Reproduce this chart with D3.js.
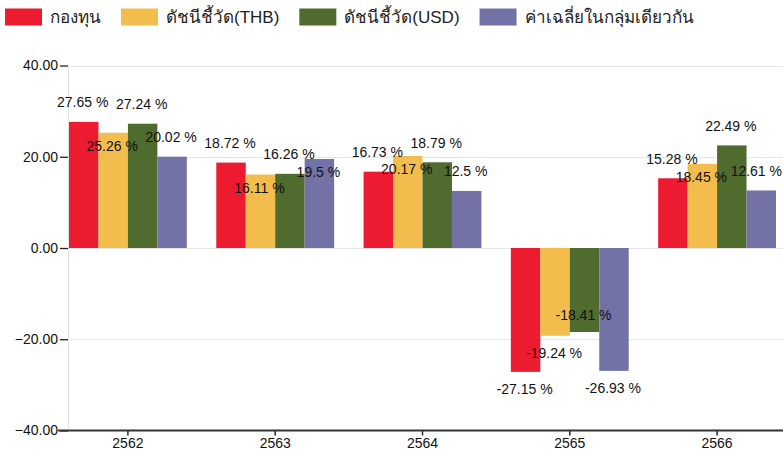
<!DOCTYPE html>
<html>
<head>
<meta charset="utf-8">
<script src="https://cdn.jsdelivr.net/npm/d3@7/dist/d3.min.js"></script>
<style>
  html, body { margin: 0; padding: 0; background: #fff; }
  svg { display: block; font-family: "Liberation Sans", Arial, sans-serif; }
</style>
</head>
<body>
<svg id="chart" width="783" height="457"></svg>
<script>
// Yearly returns (%) by Buddhist-era year
const categories = ["2562", "2563", "2564", "2565", "2566"];
const seriesNames = ["กองทุน", "ดัชนีชี้วัด(THB)", "ดัชนีชี้วัด(USD)", "ค่าเฉลี่ยในกลุ่มเดียวกัน"];
const fundReturns = [27.65, 18.72, 16.73, -27.15, 15.28];
const benchmarkTHB = [25.26, 16.11, 20.17, -19.24, 18.45];
const benchmarkUSD = [27.24, 16.26, 18.79, -18.41, 22.49];
const peerAverage = [20.02, 19.5, 12.5, -26.93, 12.61];
const yTicks = [-40, -20, 0, 20, 40];
const colors = ["#ED1B2F", "#F3BD4E", "#4F6B2D", "#7372A6"];

const seriesValues = [fundReturns, benchmarkTHB, benchmarkUSD, peerAverage];

const svg = d3.select("#chart");
const W = 783;
const plotLeft = 68, plotRight = 783, plotTop = 65.5, plotBottom = 430.5;

const y = d3.scaleLinear().domain([-40, 40]).range([plotBottom, plotTop]);
const x0 = d3.scaleBand().domain(categories).range([69, 776]).paddingInner(0.2).paddingOuter(0);
const x1 = d3.scaleBand().domain(d3.range(seriesNames.length)).range([0, x0.bandwidth()]).padding(0);

// horizontal grid lines
svg.append("g").selectAll("line")
  .data(yTicks.filter(t => t > -40))
  .join("line")
  .attr("x1", plotLeft).attr("x2", plotRight)
  .attr("y1", d => Math.round(y(d)) + 0.5).attr("y2", d => Math.round(y(d)) + 0.5)
  .attr("stroke", "#e6e6e6").attr("stroke-width", 1);

// left axis line
svg.append("line")
  .attr("x1", plotLeft + 0.5).attr("x2", plotLeft + 0.5)
  .attr("y1", plotTop).attr("y2", plotBottom)
  .attr("stroke", "#e3e3e3");

// y axis ticks and labels
const yAxis = d3.axisLeft(y).tickValues(yTicks).tickFormat(d3.format(".2f")).tickSize(8).tickPadding(2);
const gy = svg.append("g").attr("transform", `translate(${plotLeft},0)`).call(yAxis);
gy.select(".domain").remove();
gy.selectAll(".tick line").attr("stroke", "#222").attr("stroke-width", 1.3);
gy.selectAll(".tick text").attr("fill", "#111").style("font-size", "14px")
  .style("font-family", "'Liberation Sans', Arial, sans-serif");

// bars
const rows = [];
categories.forEach((c, ci) => {
  seriesValues.forEach((vals, si) => rows.push({ cat: c, si, v: vals[ci] }));
});

svg.append("g").selectAll("rect")
  .data(rows)
  .join("rect")
  .attr("x", d => x0(d.cat) + x1(d.si))
  .attr("width", x1.bandwidth())
  .attr("y", d => y(Math.max(0, d.v)))
  .attr("height", d => Math.abs(y(d.v) - y(0)))
  .attr("fill", d => colors[d.si]);

// x axis
const xAxis = d3.axisBottom(x0).tickSize(5).tickPadding(3);
const gx = svg.append("g").attr("transform", `translate(0,${plotBottom})`).call(xAxis);
gx.select(".domain").remove();
gx.selectAll(".tick line").attr("stroke", "#222").attr("stroke-width", 1.5);
gx.selectAll(".tick text").attr("fill", "#111").style("font-size", "14px")
  .style("font-family", "'Liberation Sans', Arial, sans-serif");
svg.append("line")
  .attr("x1", 58).attr("x2", W)
  .attr("y1", plotBottom).attr("y2", plotBottom)
  .attr("stroke", "#333").attr("stroke-width", 2);

// value labels: outside the bar end, or tucked inside when they would collide
const labelFont = 14;
const labels = svg.append("g").style("font-size", labelFont + "px").attr("fill", "#111");
const placed = [];
const boxH = 17;
rows.forEach(d => {
  const text = d.v + " %";
  const t = labels.append("text").attr("text-anchor", "middle").text(text);
  const w = t.node().getComputedTextLength();
  // keep the label inside the drawing area
  const cx = Math.min(x0(d.cat) + x1(d.si) + x1.bandwidth() / 2 - 1, W - w / 2 - 1);
  const end = y(d.v);
  const pos = d.v >= 0;
  const outside = pos ? end - 19.5 : end + 17;
  const inside = pos ? end + 13.5 : end - 17;
  const hits = cy => placed.some(p => Math.abs(p.cy - cy) < boxH && Math.abs(p.cx - cx) < (p.w + w) / 2);
  const cy = hits(outside) ? inside : outside;
  placed.push({ cx, cy, w });
  t.attr("x", cx).attr("y", cy).attr("dy", "0.35em");
});

// legend
const legend = svg.append("g").style("font-size", "17px");
let lx = 5;
seriesNames.forEach((name, i) => {
  legend.append("rect").attr("x", lx).attr("y", 8.5).attr("width", 37).attr("height", 17).attr("fill", colors[i]);
  const t = legend.append("text").attr("x", lx + 45).attr("y", 23).attr("fill", "#222").text(name);
  lx += 45 + t.node().getComputedTextLength() + 20;
});
</script>
</body>
</html>
